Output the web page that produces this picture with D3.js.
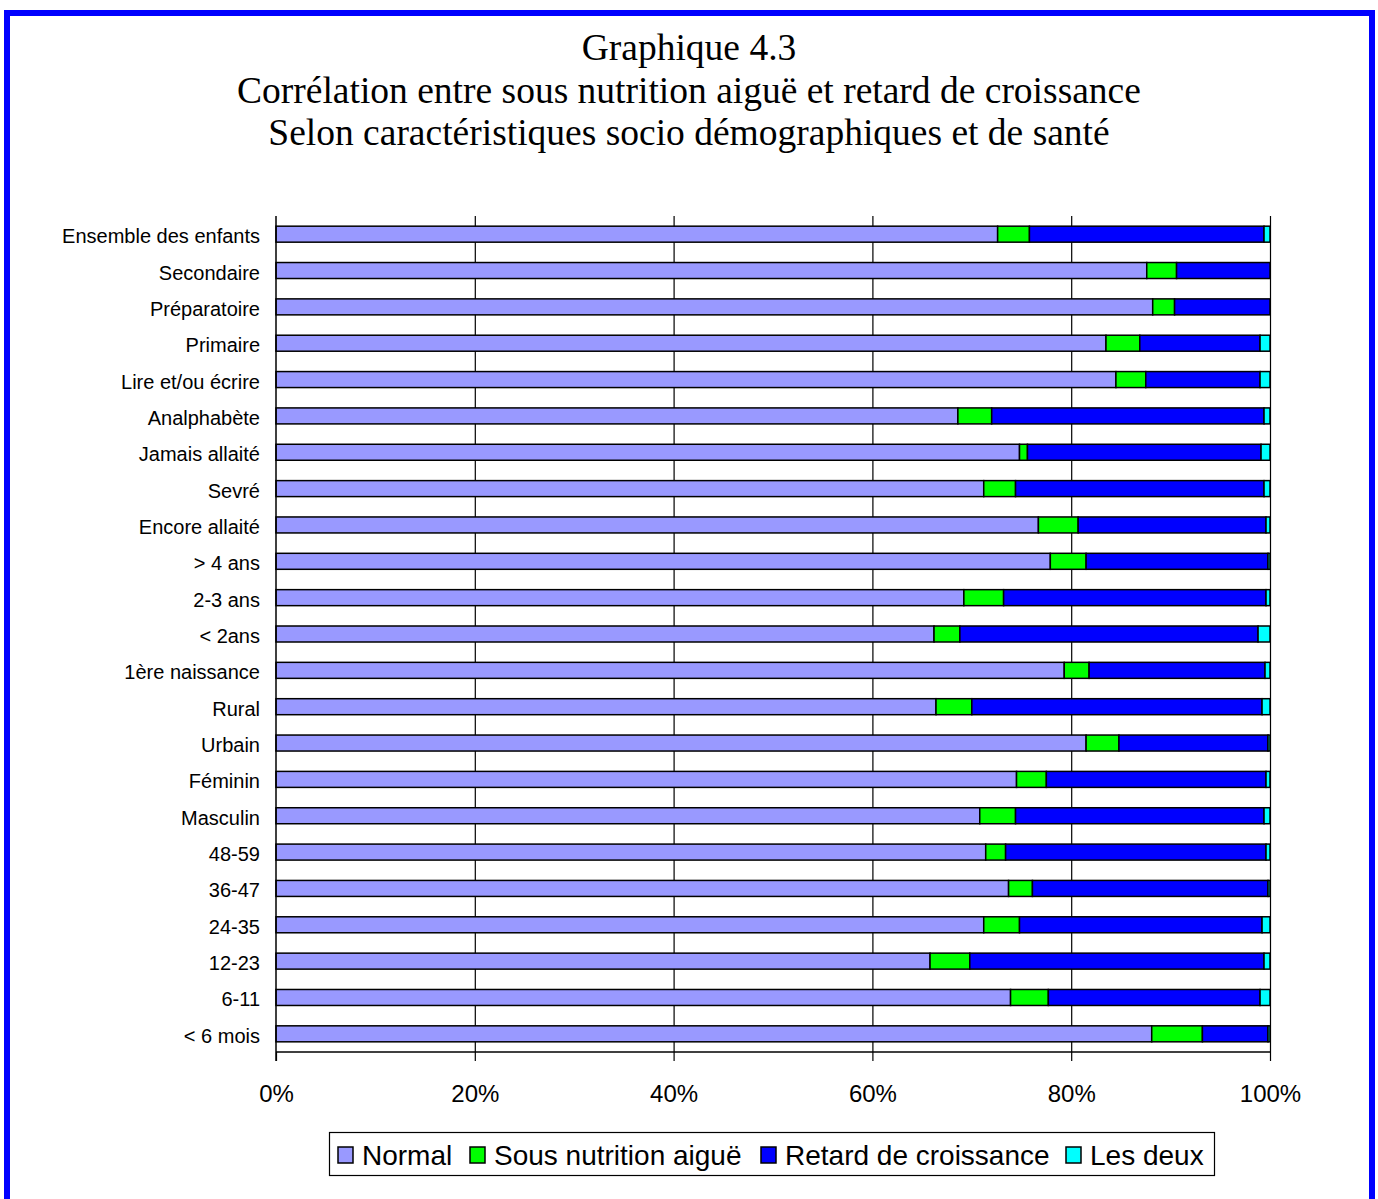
<!DOCTYPE html>
<html>
<head>
<meta charset="utf-8">
<script src="https://cdn.jsdelivr.net/npm/d3@7"></script>
<style>
  html, body { margin: 0; padding: 0; background: #fff; }
  svg { display: block; }
</style>
</head>
<body>
<svg id="chart" width="1378" height="1199"></svg>
<script>
// ---- data (top to bottom order) ----
const categories = [
  "Ensemble des enfants", "Secondaire", "Préparatoire", "Primaire", "Lire et/ou écrire",
  "Analphabète", "Jamais allaité", "Sevré", "Encore allaité", "> 4 ans", "2-3 ans",
  "< 2ans", "1ère naissance", "Rural", "Urbain", "Féminin", "Masculin", "48-59",
  "36-47", "24-35", "12-23", "6-11", "< 6 mois"
];
const seriesNames = ["Normal", "Sous nutrition aiguë", "Retard de croissance", "Les deux"];
const normal  = [72.6, 87.6, 88.2, 83.5, 84.5, 68.6, 74.8, 71.2, 76.7, 77.9, 69.2, 66.2, 79.3, 66.4, 81.5, 74.5, 70.8, 71.4, 73.7, 71.2, 65.8, 73.9, 88.1];
const aigue   = [3.2, 3.0, 2.2, 3.4, 3.0, 3.4, 0.8, 3.2, 4.0, 3.6, 4.0, 2.6, 2.5, 3.6, 3.3, 3.0, 3.6, 2.0, 2.4, 3.6, 4.0, 3.8, 5.1];
const retard  = [23.6, 9.4, 9.6, 12.1, 11.5, 27.4, 23.5, 25.0, 18.9, 18.3, 26.4, 30.0, 17.7, 29.2, 15.0, 22.1, 25.0, 26.2, 23.7, 24.4, 29.6, 21.3, 6.6];
const deux    = [0.6, 0.0, 0.0, 1.0, 1.0, 0.6, 0.9, 0.6, 0.4, 0.2, 0.4, 1.2, 0.5, 0.8, 0.2, 0.4, 0.6, 0.4, 0.2, 0.8, 0.6, 1.0, 0.2];
const xTicks = [0, 20, 40, 60, 80, 100];
const titleLines = [
  "Graphique 4.3",
  "Corrélation entre sous nutrition aiguë et retard de croissance",
  "Selon caractéristiques socio démographiques et de santé"
];
const colors = ["#9999FF", "#00FF00", "#0000FF", "#00FFFF"];

// ---- build table ----
const table = categories.map((c, i) => ({
  cat: c,
  "Normal": normal[i],
  "Sous nutrition aiguë": aigue[i],
  "Retard de croissance": retard[i],
  "Les deux": deux[i]
}));
const stacked = d3.stack().keys(seriesNames)(table);

const svg = d3.select("#chart");

// outer blue frame
svg.append("rect")
  .attr("x", 7).attr("y", 13).attr("width", 1365).attr("height", 1300)
  .attr("fill", "none").attr("stroke", "#0000FF").attr("stroke-width", 6);

// title
svg.append("g").selectAll("text").data(titleLines).join("text")
  .attr("x", 689).attr("y", (d, i) => 60 + i * 42.5)
  .attr("text-anchor", "middle")
  .attr("font-family", "'Liberation Serif', 'Times New Roman', serif")
  .attr("font-size", 37.5)
  .attr("fill", "#000")
  .text(d => d);

const pLeft = 276, pRight = 1270, pTop = 216, pBottom = 1052;
const x = d3.scaleLinear().domain([0, 100]).range([pLeft, pRight]);
const y = d3.scaleBand().domain(categories).range([pTop, pBottom])
  .paddingInner(0.56).paddingOuter(0.28);

// vertical gridlines
svg.append("g").selectAll("line").data(xTicks.filter(t => t > 0)).join("line")
  .attr("x1", d => x(d) + 0.5).attr("x2", d => x(d) + 0.5)
  .attr("y1", pTop).attr("y2", pBottom)
  .attr("stroke", "#000").attr("stroke-width", 1.2);

// bars
svg.append("g").selectAll("g").data(stacked).join("g")
  .attr("fill", (d, i) => colors[i])
  .selectAll("rect").data(d => d.filter(s => s[1] - s[0] > 0)).join("rect")
  .attr("x", d => x(d[0]))
  .attr("width", d => x(d[1]) - x(d[0]))
  .attr("y", d => y(d.data.cat))
  .attr("height", y.bandwidth())
  .attr("stroke", "#000").attr("stroke-width", 1.5);

// bottom axis
const xAxis = d3.axisBottom(x).tickValues(xTicks).tickFormat(d => d + "%").tickSize(9).tickPadding(24);
const gx = svg.append("g").attr("transform", `translate(0,${pBottom})`).call(xAxis);
gx.select(".domain").attr("stroke", "#000").attr("stroke-width", 1.5).attr("d", `M${pLeft},0H${pRight}`);
gx.selectAll(".tick line").attr("stroke", "#000").attr("stroke-width", 1.2);
gx.selectAll(".tick text")
  .attr("font-family", "'Liberation Sans', Arial, sans-serif")
  .attr("font-size", 24).attr("fill", "#000");

// left axis (no ticks)
const yAxis = d3.axisLeft(y).tickSize(0).tickPadding(16);
const gy = svg.append("g").attr("transform", `translate(${pLeft},0)`).call(yAxis);
gy.select(".domain").attr("stroke", "#000").attr("stroke-width", 1.5).attr("d", `M0,${pTop}V${pBottom + 9}`);
gy.selectAll(".tick text")
  .attr("font-family", "'Liberation Sans', Arial, sans-serif")
  .attr("font-size", 20).attr("fill", "#000").attr("dy", "0.45em");

// legend
const lg = svg.append("g");
lg.append("rect").attr("x", 329.5).attr("y", 1132.5).attr("width", 885).attr("height", 43)
  .attr("fill", "#fff").attr("stroke", "#000").attr("stroke-width", 1.2);
const legendX = [338, 470, 761, 1066];
const items = lg.selectAll("g.item").data(seriesNames).join("g").attr("class", "item")
  .attr("transform", (d, i) => `translate(${legendX[i]},0)`);
items.append("rect").attr("x", 0).attr("y", 1147).attr("width", 15).attr("height", 16)
  .attr("fill", (d, i) => colors[i]).attr("stroke", "#000").attr("stroke-width", 1.5);
items.append("text").attr("x", 24).attr("y", 1165)
  .attr("font-family", "'Liberation Sans', Arial, sans-serif")
  .attr("font-size", 28).attr("fill", "#000")
  .text(d => d);
</script>
</body>
</html>
